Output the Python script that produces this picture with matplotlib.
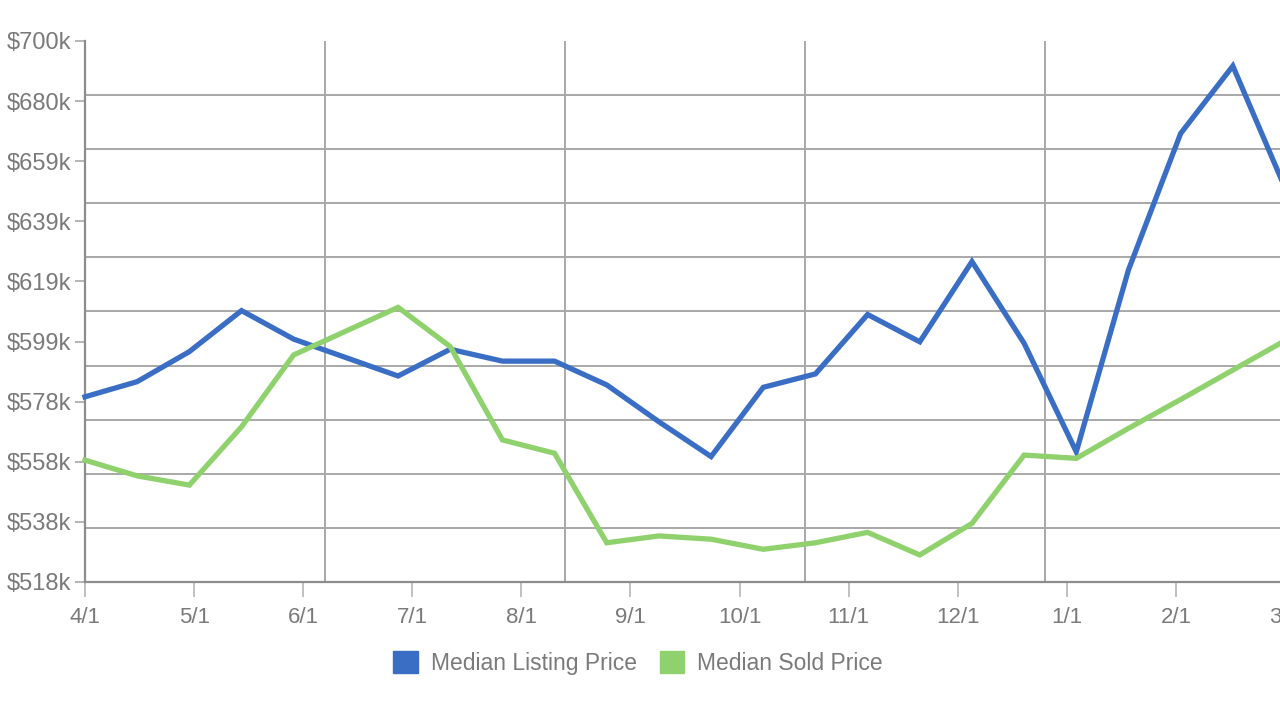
import numpy as np
import matplotlib
matplotlib.use("Agg")
import matplotlib.pyplot as plt
from matplotlib.patches import Patch

# ---- data (values in $ thousands) ----
month_labels = ['4/1', '5/1', '6/1', '7/1', '8/1', '9/1', '10/1', '11/1', '12/1', '1/1', '2/1', '3/1']
listing_price = [580.3, 585.4, 595.5, 609.3, 599.7, 593.5, 587.3, 596.3, 592.3, 592.3,
                 584.3, 571.9, 560.2, 583.5, 588.0, 608.0, 598.8, 625.8, 598.3, 561.8,
                 623.0, 668.9, 691.6, 650.6]
sold_price = [559.0, 553.7, 550.6, 570.2, 594.4, 602.4, 610.4, 597.2, 565.8, 561.3,
              531.2, 533.5, 532.4, 529.0, 531.2, 534.7, 527.1, 537.7, 560.7, 559.6,
              569.7, 579.4, 589.3, 599.2]
y_tick_labels = ['$518k', '$538k', '$558k', '$578k', '$599k', '$619k', '$639k', '$659k', '$680k', '$700k']
series_names = ['Median Listing Price', 'Median Sold Price']
y_min, y_max = 518, 700

BLUE = '#3a6ec4'
GREEN = '#8fd16d'
TEXT = '#7a7a7a'
GRID = '#a8a8a8'

plt.rcParams['font.family'] = ['Liberation Sans', 'DejaVu Sans']

fig = plt.figure(figsize=(12.8, 7.2), dpi=100)
W, H = 1280, 720
left, right, top, bottom = 85, 1285, 41, 582
ax = fig.add_axes([left / W, (H - bottom) / H, (right - left) / W, (bottom - top) / H])

n = len(listing_price)
x = np.arange(n)
ax.plot(x, listing_price, color=BLUE, lw=3.8, solid_joinstyle='miter', zorder=3, clip_on=False)
ax.plot(x, sold_price, color=GREEN, lw=3.8, solid_joinstyle='miter', zorder=3, clip_on=False)

ax.set_xlim(0, n - 1)
ax.set_ylim(y_min, y_max)

# y ticks (labels) and gridlines (separate spacing)
ax.set_yticks(np.linspace(y_min, y_max, len(y_tick_labels)))
ax.set_yticklabels(y_tick_labels)
ax.set_yticks(np.linspace(y_min, y_max, 11), minor=True)

# x ticks (months) and vertical gridlines
nm = len(month_labels) - 1
ax.set_xticks(np.arange(len(month_labels)) * (n - 1) / nm)
ax.set_xticklabels(month_labels)
ax.set_xticks(np.arange(6) * (n - 1) / 5, minor=True)

ax.grid(False, which='major')
ax.grid(True, which='minor', color=GRID, lw=1.4)
ax.set_axisbelow(True)

ax.tick_params(axis='y', which='major', direction='out', length=7, width=1.2,
               color=GRID, labelcolor=TEXT, labelsize=17, pad=3)
ax.tick_params(axis='x', which='major', direction='out', length=11, width=1.2,
               color='#b5b5b5', labelcolor=TEXT, labelsize=16, pad=7)
ax.tick_params(which='minor', length=0)

for s in ['top', 'right']:
    ax.spines[s].set_visible(False)
for s in ['left', 'bottom']:
    ax.spines[s].set_color('#8c8c8c')
    ax.spines[s].set_linewidth(1.6)

handles = [Patch(facecolor=BLUE, edgecolor=BLUE), Patch(facecolor=GREEN, edgecolor=GREEN)]
fig.legend(handles, series_names, loc='center', bbox_to_anchor=(638 / W, (H - 663) / H),
           ncol=2, frameon=False, fontsize=16.5, labelcolor=TEXT,
           handlelength=1.08, handleheight=1.08, handletextpad=0.55, columnspacing=1.0)

fig.savefig('out.png', dpi=100)
